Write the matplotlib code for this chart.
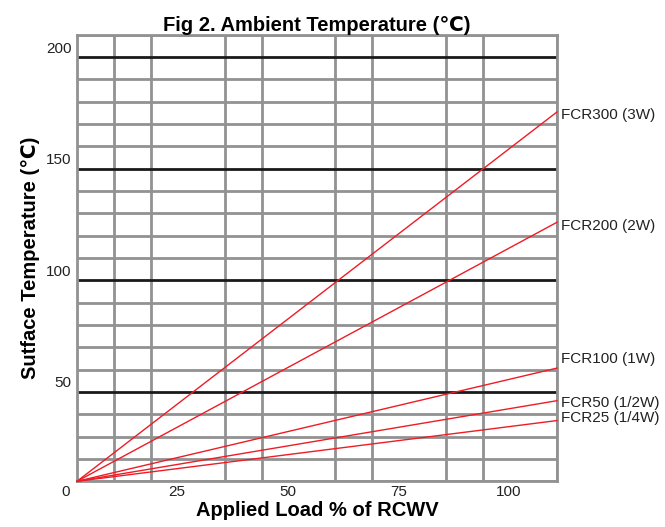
import numpy as np
import matplotlib
matplotlib.use('Agg')
import matplotlib.pyplot as plt
from matplotlib.transforms import ScaledTranslation

plt.rcParams['font.family'] = ['Liberation Sans', 'DejaVu Sans']

# chart data
load_range = [0, 13 * 25 / 3]          # % of RCWV, left to right edge of grid
ambient = 10                            # all curves start here
series = ['FCR300 (3W)', 'FCR200 (2W)', 'FCR100 (1W)', 'FCR50 (1/2W)', 'FCR25 (1/4W)']
end_temp = [175.4, 126.0, 60.7, 46.1, 37.2]
label_y = [174.2, 124.5, 64.9, 45.2, 38.2]
x_ticks = [0, 25, 50, 75, 100]
y_ticks = [50, 100, 150, 200]
y_lim = (10, 210)

grey = '#929292'

fig = plt.figure(figsize=(6.65, 5.27), dpi=100)
ax = fig.add_axes([77 / 665, 1 - 481.3 / 527, 480 / 665, 446.6 / 527])

ax.set_xlim(load_range)
ax.set_ylim(y_lim)

# grey grid (minor) and black major lines
ax.set_xticks(np.arange(0, load_range[1] + 0.1, 25 / 3), minor=True)
ax.set_yticks(np.arange(y_lim[0], y_lim[1] + 0.1, 10), minor=True)
ax.grid(which='minor', color=grey, linewidth=2.0)
ax.set_axisbelow(True)
for v in y_ticks:
    ax.axhline(v, color='#1a1a1a', linewidth=2.0, zorder=1.5)

for s in ax.spines.values():
    s.set_color(grey)
    s.set_linewidth(2.0)

ax.set_xticks(x_ticks)
ax.set_yticks(y_ticks)
ax.set_xticklabels([str(v) for v in x_ticks])
ax.set_yticklabels([str(v) for v in y_ticks])
ax.tick_params(which='both', length=0, labelsize=11, colors='#222222')
ax.tick_params(axis='x', pad=3)
ax.tick_params(axis='y', pad=4)
for lab in ax.get_xticklabels():
    lab.set_transform(lab.get_transform() + ScaledTranslation(-11 / 100, 0, fig.dpi_scale_trans))
for lab in ax.get_yticklabels():
    lab.set_transform(lab.get_transform() + ScaledTranslation(0, 10 / 100, fig.dpi_scale_trans))

# red curves
for name, t_end, ly in zip(series, end_temp, label_y):
    ax.plot(load_range, [ambient, t_end], color='#ee1c25', linewidth=1.0, zorder=3, clip_on=False)
    ax.annotate(name, xy=(load_range[1], ly), xytext=(3, 0), textcoords='offset points',
                va='center', ha='left', fontsize=11, color='#222222', annotation_clip=False)

ax.set_title('Fig 2. Ambient Temperature (℃)', fontsize=14.5, fontweight='bold', pad=2)
ax.set_xlabel('Applied Load % of RCWV', fontsize=14.5, fontweight='bold', labelpad=1)
ax.set_ylabel('Sutface Temperature (℃)', fontsize=14.5, fontweight='bold', labelpad=4)

fig.savefig('out.png', dpi=100)
